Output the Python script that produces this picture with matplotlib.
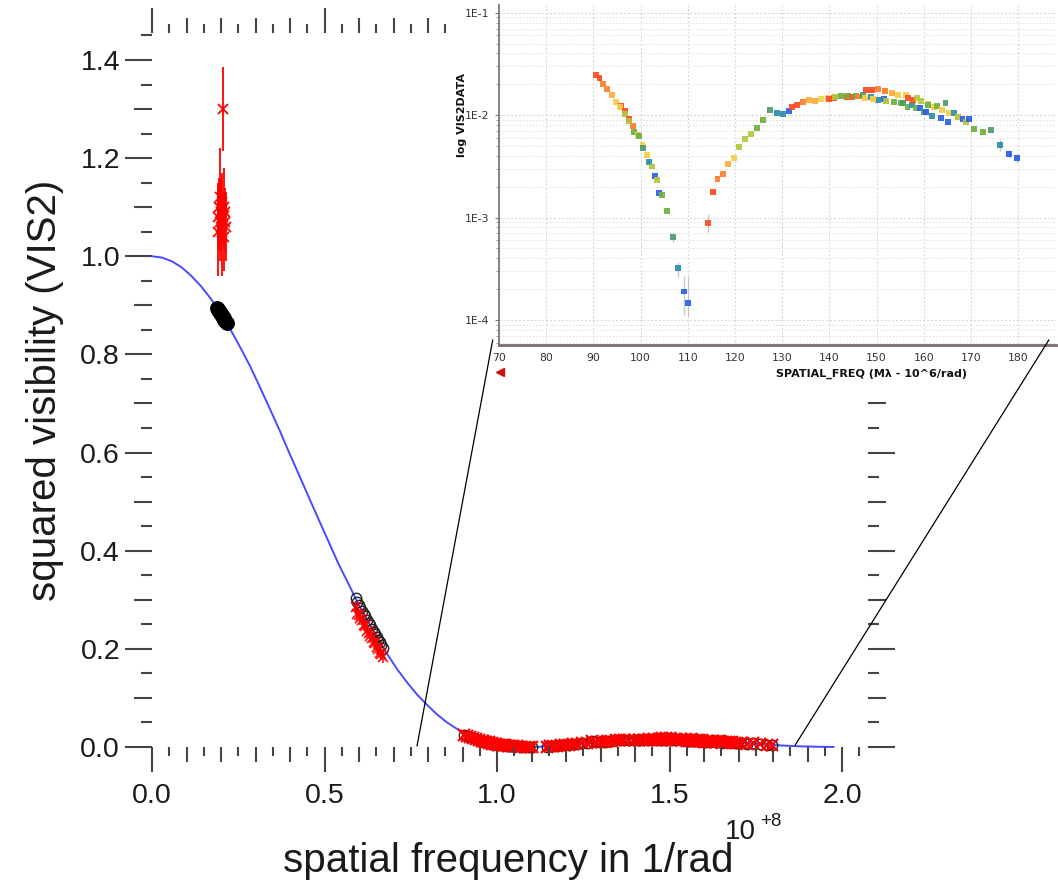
import numpy as np
import matplotlib
matplotlib.use('Agg')
import matplotlib.pyplot as plt
from matplotlib.patches import Rectangle, ConnectionPatch
from matplotlib.lines import Line2D
from matplotlib.ticker import MultipleLocator, FixedLocator, FuncFormatter, LogLocator, NullFormatter

# ---------------- data ----------------
# model curve (spatial frequency in 1e8 /rad, squared visibility)
curve_u = [0.000, 0.028, 0.057, 0.085, 0.114, 0.142, 0.171, 0.199, 0.228, 0.256, 0.285, 0.313,
           0.341, 0.370, 0.398, 0.427, 0.455, 0.484, 0.512, 0.540, 0.569, 0.597, 0.626, 0.654,
           0.683, 0.711, 0.740, 0.768, 0.797, 0.825, 0.853, 0.882, 0.910, 0.939, 0.967, 0.996,
           1.024, 1.053, 1.081, 1.109, 1.138, 1.195, 1.252, 1.309, 1.366, 1.422, 1.479, 1.536,
           1.593, 1.650, 1.707, 1.764, 1.821, 1.877, 1.934, 1.975]
curve_v2 = [1.000, 0.9975, 0.990, 0.978, 0.960, 0.939, 0.913, 0.884, 0.850, 0.814, 0.775, 0.733,
            0.690, 0.645, 0.599, 0.553, 0.508, 0.462, 0.418, 0.374, 0.333, 0.293, 0.256, 0.220,
            0.188, 0.158, 0.131, 0.107, 0.086, 0.067, 0.051, 0.0377, 0.027, 0.0179, 0.011, 0.0062,
            0.0028, 0.00085, 0.00005, 0.0002, 0.0011, 0.0044, 0.0085, 0.0125, 0.0155, 0.0170, 0.0174, 0.0164,
            0.0143, 0.0115, 0.0085, 0.0056, 0.0032, 0.0014, 0.0004, 0.0001]

# short-baseline group: observed
g1_u = [0.190, 0.192, 0.194, 0.196, 0.198, 0.200, 0.201, 0.203, 0.204, 0.206, 0.208, 0.209, 0.211, 0.213, 0.215, 0.205]
g1_v2 = [1.08, 1.05, 1.10, 1.07, 1.12, 1.06, 1.09, 1.11, 1.05, 1.08, 1.10, 1.04, 1.07, 1.09, 1.06, 1.30]
g1_err = [0.07, 0.09, 0.06, 0.08, 0.10, 0.05, 0.07, 0.06, 0.09, 0.05, 0.08, 0.07, 0.06, 0.05, 0.07, 0.085]
# short-baseline group: model
g1m_u = [0.188, 0.190, 0.192, 0.194, 0.196, 0.198, 0.200, 0.202, 0.204, 0.206, 0.208, 0.210, 0.212, 0.214, 0.216]
g1m_v2 = [0.895, 0.893, 0.891, 0.889, 0.887, 0.885, 0.883, 0.880, 0.878, 0.876, 0.874, 0.871, 0.869, 0.867, 0.864]

# medium-baseline group
g2_u = [0.590, 0.595, 0.600, 0.604, 0.609, 0.614, 0.618, 0.623, 0.628, 0.632, 0.637, 0.642,
        0.646, 0.651, 0.656, 0.660, 0.665, 0.670]
g2_model = [0.303, 0.296, 0.289, 0.284, 0.277, 0.271, 0.266, 0.259, 0.253, 0.248, 0.241, 0.235,
            0.230, 0.224, 0.218, 0.213, 0.207, 0.202]
g2_v2 = [0.285, 0.272, 0.270, 0.262, 0.258, 0.248, 0.247, 0.236, 0.233, 0.226, 0.222, 0.213,
         0.211, 0.203, 0.199, 0.192, 0.190, 0.183]
g2_err = [0.012, 0.015, 0.010, 0.014, 0.012, 0.011, 0.015, 0.013, 0.010, 0.014, 0.012, 0.013,
          0.011, 0.015, 0.012, 0.010, 0.013, 0.012]

# long-baseline data (inset, spatial frequency in Mlambda)
inset_freq = [90.5, 91.3, 92.1, 92.95, 93.9, 94.7, 95.85, 95.7, 96.7, 96.6, 97.6, 97.6, 98.45, 98.6,
              99.4, 99.6, 100.4, 100.6, 101.35, 101.85, 102.4, 103.05, 103.5, 103.97, 104.5, 105.67,
              106.8, 107.99, 109.2, 110.1, 114.35, 115.3, 116.3, 117.45, 118.5, 119.7, 120.9, 122.1,
              123.3, 124.6, 126.0, 127.4, 128.8, 130.2, 131.4, 132.1, 133.1, 134.35, 135.6, 136.9,
              138.2, 139.6, 139.9, 141.0, 141.1, 142.4, 143.7, 143.9, 144.9, 145.6, 146.3, 147.05,
              147.7, 147.6, 148.75, 148.95, 150.2, 150.35, 149.2, 151.6, 151.8, 152.0, 153.2, 153.6,
              154.6, 155.1, 155.5, 156.2, 156.55, 156.7, 157.5, 157.8, 158.4, 158.5, 159.15, 159.4,
              160.0, 160.5, 160.95, 160.95, 161.75, 162.2, 162.7, 163.55, 163.9, 164.6, 165.05, 165.4,
              166.3, 167.2, 168.2, 168.9, 169.65, 170.6, 172.45, 174.3, 176.2, 178.1, 179.75]
inset_vis2 = [0.0248, 0.0229, 0.0200, 0.0179, 0.0158, 0.01336, 0.01222, 0.0119, 0.0109, 0.0103, 0.00924,
              0.0087, 0.00785, 0.00681, 0.00641, 0.00622, 0.00508, 0.00482, 0.00409, 0.00349, 0.00315,
              0.00255, 0.00233, 0.00175, 0.00166, 0.00116, 0.000644, 0.000321, 0.00019, 0.000146,
              0.00088, 0.00177, 0.00239, 0.00267, 0.00334, 0.00379, 0.00486, 0.00582, 0.00656, 0.0075,
              0.00898, 0.01125, 0.01045, 0.01035, 0.0109, 0.01202, 0.01248, 0.01355, 0.01407, 0.01384,
              0.01449, 0.01472, 0.0144, 0.01462, 0.01507, 0.01528, 0.01517, 0.0154, 0.01493, 0.0153,
              0.0152, 0.01563, 0.0175, 0.01472, 0.01507, 0.0176, 0.01803, 0.01415, 0.01449, 0.01428,
              0.0172, 0.01377, 0.01636, 0.01336, 0.01585, 0.01305, 0.0132, 0.0158, 0.01194, 0.01472,
              0.01248, 0.01407, 0.01166, 0.01483, 0.01166, 0.01384, 0.01081, 0.0107, 0.01285, 0.0125,
              0.00989, 0.0121, 0.0122, 0.00933, 0.01125, 0.01305, 0.00853, 0.01056, 0.01045, 0.00955,
              0.00924, 0.00859, 0.00912, 0.00738, 0.0069, 0.00718, 0.00515, 0.00418, 0.00379]
inset_col = ['R', 'R', 'O', 'O', 'LO', 'Y', 'R', 'Y', 'R', 'YG', 'R', 'YG', 'O', 'G',
             'Y', 'G', 'Y', 'TG', 'Y', 'T', 'YG', 'B', 'YG', 'B', 'G', 'G',
             'TG', 'T', 'B', 'B', 'R', 'R', 'O', 'O', 'LO', 'Y', 'YG', 'YG',
             'YG', 'G', 'G', 'TG', 'T', 'T', 'B', 'R', 'R', 'O', 'LO', 'LO',
             'Y', 'Y', 'R', 'R', 'YG', 'G', 'R', 'G', 'R', 'G', 'O', 'TG',
             'R', 'Y', 'T', 'R', 'O', 'T', 'Y', 'B', 'O', 'YG', 'LO', 'G',
             'Y', 'G', 'TG', 'Y', 'G', 'R', 'T', 'R', 'G', 'YG', 'B', 'YG',
             'TG', 'B', 'Y', 'G', 'T', 'Y', 'G', 'B', 'Y', 'TG', 'B', 'Y',
             'T', 'YG', 'B', 'YG', 'B', 'G', 'G', 'TG', 'T', 'B', 'B']
err_freq = [106.8, 107.99, 109.2, 110.1, 114.35, 176.2, 178.1, 179.75]
err_lo = [0.00058, 0.00026, 0.000112, 0.00011, 0.00072, 0.0045, 0.0038, 0.0034]
err_hi = [0.00071, 0.00037, 0.000268, 0.00027, 0.00108, 0.0058, 0.0046, 0.0042]

palette = {'R': '#ff4a1f', 'O': '#ff7f2a', 'LO': '#ffab3d', 'Y': '#f5cf45', 'YG': '#b5c43a',
           'G': '#6fb03e', 'TG': '#4e9a6e', 'T': '#2b8fa8', 'B': '#2b5fe8'}

# ---------------- figure ----------------
W, H = 1058, 885
plt.rcParams['font.family'] = ['Liberation Sans', 'DejaVu Sans']
fig = plt.figure(figsize=(W / 100, H / 100), dpi=100)


def fx(px):
    return px / W


def fy(py):
    return 1 - py / H


rect = [fx(152), fy(747), fx(868) - fx(152), fy(33) - fy(747)]
ax = fig.add_axes(rect, zorder=0)
XMAX, YMAX = 2.075, 1.455
ax.set_xlim(0, XMAX)
ax.set_ylim(0, YMAX)
for s in ax.spines.values():
    s.set_visible(False)
tc = '#454545'
ax.xaxis.set_major_locator(MultipleLocator(0.5))
ax.xaxis.set_minor_locator(MultipleLocator(0.1))
ax.yaxis.set_major_locator(MultipleLocator(0.2))
ax.yaxis.set_minor_locator(MultipleLocator(0.1))
ax.xaxis.set_major_formatter(FuncFormatter(lambda v, p: f"{v:.1f}"))
ax.yaxis.set_major_formatter(FuncFormatter(lambda v, p: f"{v:.1f}"))
ax.tick_params(axis='x', which='major', direction='out', length=18, width=1.5, color=tc,
               top=True, bottom=True, labeltop=False, labelsize=20.5, pad=8, labelcolor='#1a1a1a')
ax.tick_params(axis='x', which='minor', direction='out', length=11, width=1.5, color=tc,
               top=True, bottom=True)
ax.tick_params(axis='y', which='major', direction='out', length=19.5, width=1.5, color=tc,
               left=True, right=True, labelright=False, labelsize=20.5, pad=3.5, labelcolor='#1a1a1a')
ax.tick_params(axis='y', which='minor', direction='out', length=13, width=1.5, color=tc,
               left=True, right=True)

# short ticks overlay
axs = fig.add_axes(rect, zorder=0)
axs.set_xlim(0, XMAX)
axs.set_ylim(0, YMAX)
axs.patch.set_visible(False)
for s in axs.spines.values():
    s.set_visible(False)
axs.xaxis.set_major_locator(FixedLocator([0.05 + 0.1 * i for i in range(21)]))
axs.yaxis.set_major_locator(FixedLocator([0.05 + 0.1 * i for i in range(15)]))
axs.tick_params(axis='x', direction='out', length=6.5, width=1.5, color=tc, top=True, bottom=True,
                labelbottom=False, labeltop=False)
axs.tick_params(axis='y', direction='out', length=8, width=1.5, color=tc, left=True, right=True,
                labelleft=False, labelright=False)

# model curve
ax.plot(curve_u, curve_v2, color='#4a4aff', lw=1.4, zorder=1, clip_on=False)

# model points (black circles)
u3 = np.array(inset_freq) / 100.0
ax.plot(g1m_u, g1m_v2, 'o', ms=9.5, mfc='black', mec='black', mew=1.2, zorder=2)
ax.plot(g2_u, g2_model, 'o', ms=7.5, mfc='none', mec='#222222', mew=1.0, zorder=2)
ax.plot(u3, inset_vis2, 'o', ms=7.5, mfc='none', mec='#222222', mew=1.0, zorder=2, clip_on=False)

# observed points (red crosses)
ax.errorbar(g1_u, g1_v2, yerr=g1_err, fmt='x', color='#ff0000', ms=7.5, mew=1.3, elinewidth=1.3,
            capsize=0, zorder=3)
ax.errorbar(g2_u, g2_v2, yerr=g2_err, fmt='x', color='#ff0000', ms=7.5, mew=1.3, elinewidth=1.2,
            capsize=0, zorder=3, alpha=0.9)
ax.plot(u3, inset_vis2, 'x', color='#ff0000', ms=8.5, mew=1.6, zorder=3, clip_on=False)

# axis labels
fig.text(fx(45), fy(390), 'squared visibility (VIS2)', rotation=90, ha='center', va='center',
         fontsize=29, color='#1a1a1a')
fig.text(fx(508), fy(872), 'spatial frequency in 1/rad', ha='center', va='baseline',
         fontsize=29, color='#1a1a1a')
fig.text(fx(725), fy(839), '10', ha='left', va='baseline', fontsize=20, color='#1a1a1a')
fig.text(fx(760), fy(826), '+8', ha='left', va='baseline', fontsize=13.5, color='#1a1a1a')

# white backdrop of the pasted inset
fig.add_artist(Rectangle((fx(452), fy(392)), fx(1058) - fx(452), fy(0) - fy(392),
                         transform=fig.transFigure, facecolor='white', edgecolor='none', zorder=1))

# ---------------- inset ----------------
axi = fig.add_axes([fx(499), fy(345), fx(1056) - fx(499), fy(5) - fy(345)], zorder=3)
axi.set_yscale('log')
axi.set_xlim(70, 188.0)
axi.set_ylim(10 ** -4.244, 10 ** -0.925)
axi.set_facecolor('white')
axi.spines['top'].set_visible(False)
axi.spines['right'].set_visible(False)
axi.spines['left'].set_color('#7a7a7a')
axi.spines['left'].set_linewidth(1.3)
axi.spines['bottom'].set_color('#7b6b6b')
axi.spines['bottom'].set_linewidth(2.0)
axi.xaxis.set_major_locator(MultipleLocator(10))
axi.yaxis.set_major_locator(LogLocator(base=10))
axi.yaxis.set_minor_locator(LogLocator(base=10, subs=[2, 3, 4, 5, 6, 7, 8, 9]))
axi.yaxis.set_minor_formatter(NullFormatter())
axi.yaxis.set_major_formatter(FuncFormatter(lambda v, p: f"1E{int(round(np.log10(v)))}"))
axi.grid(which='major', color='#d2d2d2', ls=(0, (2, 2)), lw=0.7)
axi.grid(which='minor', axis='y', color='#dedede', ls=(0, (2, 2)), lw=0.6)
axi.set_axisbelow(True)
axi.tick_params(axis='x', which='major', length=0, pad=6, labelsize=7.8, labelcolor='#333333')
axi.tick_params(axis='y', which='major', direction='out', length=3, width=0.8, color='#777777',
                pad=4, labelsize=7.8, labelcolor='#333333')
axi.tick_params(axis='y', which='minor', direction='out', length=2, width=0.6, color='#888888')
for lab in axi.get_xticklabels() + axi.get_yticklabels():
    lab.set_family('DejaVu Sans')

axi.vlines(err_freq, err_lo, err_hi, color='#c4c4c4', lw=0.9, zorder=2)
axi.scatter(inset_freq, inset_vis2, marker='s', s=18, c=[palette[k] for k in inset_col],
            edgecolors='none', alpha=0.92, zorder=3)

fig.text(fx(462), fy(115), 'log VIS2DATA', rotation=90, ha='center', va='center', fontsize=8,
         fontweight='bold', family='DejaVu Sans', color='#111111')
fig.text(fx(871), fy(374), 'SPATIAL_FREQ (M\u03bb - 10^6/rad)', ha='center', va='center', fontsize=8,
         fontweight='bold', family='DejaVu Sans', color='#111111')
fig.add_artist(Line2D([fx(500)], [fy(372)], marker='<', ms=6, color='#cc1010', ls='none',
                      transform=fig.transFigure, zorder=4))

# connector lines from main plot to inset
for xa, ya, xb, yb in [(0.768, 0.002, 68.67, 6.4e-5), (1.864, 0.004, 186.5, 6.4e-5)]:
    cp = ConnectionPatch(xyA=(xa, ya), coordsA=ax.transData, xyB=(xb, yb), coordsB=axi.transData,
                         color='black', lw=0.9, zorder=5)
    fig.add_artist(cp)

fig.savefig('out.png', dpi=100)
